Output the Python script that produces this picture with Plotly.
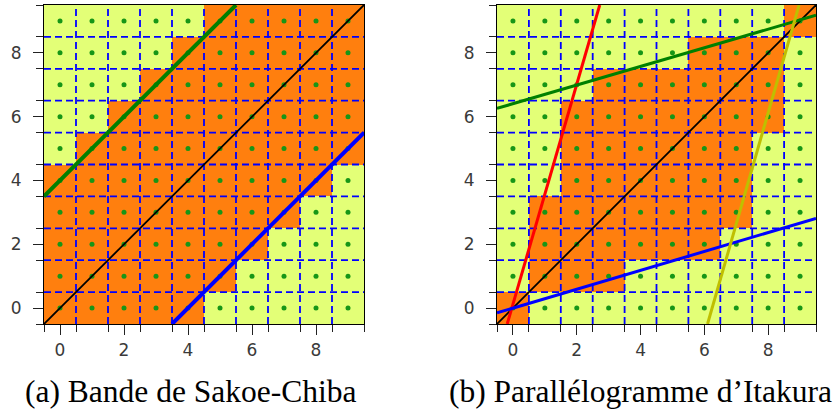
import plotly.graph_objects as go

# ---------------- data ----------------
n_cells = 10
cell_idx = list(range(n_cells))
major_ticks = [0, 2, 4, 6, 8]
minor_ticks = [-0.5 + k for k in range(n_cells + 1)]
grid_pos = [0.5 + k for k in range(n_cells - 1)]

# orange cells per row y (inclusive column range x_start..x_end)
sakoe_start = [0, 0, 0, 0, 0, 1, 2, 3, 4, 5]
sakoe_end = [4, 5, 6, 7, 8, 9, 9, 9, 9, 9]
itakura_start = [0, 1, 1, 1, 2, 2, 2, 3, 6, 9]
itakura_end = [0, 3, 6, 7, 7, 7, 8, 8, 8, 9]

diag_x = [-0.5, 9.5]
diag_y = [-0.5, 9.5]
sakoe_upper_x = [-0.5, 5.5]
sakoe_upper_y = [3.5, 9.5]
sakoe_lower_x = [3.5, 9.5]
sakoe_lower_y = [-0.5, 5.5]
itak_red_x = [-0.18, 2.72]
itak_red_y = [-0.5, 9.5]
itak_blue_x = [-0.5, 9.5]
itak_blue_y = [-0.15, 2.81]
itak_green_x = [-0.5, 9.5]
itak_green_y = [6.26, 9.18]
itak_yellow_x = [6.10, 8.97]
itak_yellow_y = [-0.5, 9.5]

captions = ["(a) Bande de Sakoe-Chiba", "(b) Parallélogramme d\u2019Itakura"]

# ---------------- style ----------------
W, H = 838, 416
ORANGE = "#ff7f0e"
LIGHT = "#e3ff77"
DOT = "#179617"
GRIDBLUE = "#0000ff"


def mask(starts, ends):
    return [[1 if starts[y] <= x <= ends[y] else 0 for x in cell_idx] for y in cell_idx]


def grid_lines():
    xs, ys = [], []
    for p in grid_pos:
        xs += [p, p, None]
        ys += [minor_ticks[0], minor_ticks[-1], None]
    for p in grid_pos:
        xs += [minor_ticks[0], minor_ticks[-1], None]
        ys += [p, p, None]
    return xs, ys


fig = go.Figure()

panels = [
    dict(xa="x", ya="y", m=mask(sakoe_start, sakoe_end),
         lines=[(diag_x, diag_y, "black", 1.8),
                (sakoe_upper_x, sakoe_upper_y, "#008000", 4),
                (sakoe_lower_x, sakoe_lower_y, "#0000ff", 4)]),
    dict(xa="x2", ya="y2", m=mask(itakura_start, itakura_end),
         lines=[(diag_x, diag_y, "black", 1.8),
                (itak_red_x, itak_red_y, "#ff0000", 3),
                (itak_blue_x, itak_blue_y, "#0000ff", 3),
                (itak_green_x, itak_green_y, "#008000", 3),
                (itak_yellow_x, itak_yellow_y, "#bfbf00", 3)]),
]

for p in panels:
    fig.add_trace(go.Heatmap(
        x=cell_idx, y=cell_idx, z=p["m"], zmin=0, zmax=1,
        colorscale=[[0, LIGHT], [0.5, LIGHT], [0.5, ORANGE], [1, ORANGE]],
        showscale=False, hoverinfo="skip", xaxis=p["xa"], yaxis=p["ya"]))
    gx, gy = grid_lines()
    fig.add_trace(go.Scatter(
        x=gx, y=gy, mode="lines", line=dict(color=GRIDBLUE, width=1.8, dash="7px,4px"),
        connectgaps=False, hoverinfo="skip", showlegend=False,
        xaxis=p["xa"], yaxis=p["ya"]))
    dx = [x for y in cell_idx for x in cell_idx]
    dy = [y for y in cell_idx for x in cell_idx]
    fig.add_trace(go.Scatter(
        x=dx, y=dy, mode="markers", marker=dict(color=DOT, size=5, line=dict(width=0)),
        hoverinfo="skip", showlegend=False, xaxis=p["xa"], yaxis=p["ya"]))
    for lx, ly, c, w in p["lines"]:
        fig.add_trace(go.Scatter(
            x=lx, y=ly, mode="lines", line=dict(color=c, width=w),
            hoverinfo="skip", showlegend=False, xaxis=p["xa"], yaxis=p["ya"]))

tickfont = dict(family="DejaVu Sans", size=17, color="#3a3a3a")


def axis(standoff):
    return dict(
        range=[-0.5, 9.5], showgrid=False, zeroline=False,
        showline=True, mirror=True, linecolor="black", linewidth=1.2,
        tickmode="array", tickvals=major_ticks, ticktext=[str(v) for v in major_ticks],
        ticks="outside", ticklen=10, tickwidth=1.2, tickcolor="#222",
        tickfont=tickfont, ticklabelstandoff=standoff,
        minor=dict(tickvals=minor_ticks, ticks="outside", ticklen=7, tickwidth=1,
                   tickcolor="#222", showgrid=False),
    )


y_dom = [1 - 324 / H, 1 - 5 / H]
fig.update_layout(
    width=W, height=H, margin=dict(l=0, r=0, t=0, b=0),
    paper_bgcolor="white", plot_bgcolor="white", showlegend=False,
    xaxis=dict(domain=[44 / W, 364 / W], anchor="y", **axis(0)),
    yaxis=dict(domain=y_dom, anchor="x", **axis(8)),
    xaxis2=dict(domain=[497 / W, 816 / W], anchor="y2", **axis(0)),
    yaxis2=dict(domain=y_dom, anchor="x2", **axis(8)),
)

cap_x = [191, 640]
for cx, txt in zip(cap_x, captions):
    fig.add_annotation(
        x=cx / W, y=1 - 391 / H, xref="paper", yref="paper", text=txt, showarrow=False,
        xanchor="center", yanchor="middle",
        font=dict(family="Liberation Serif", size=31.5, color="black"))

fig.write_html("out.html")
